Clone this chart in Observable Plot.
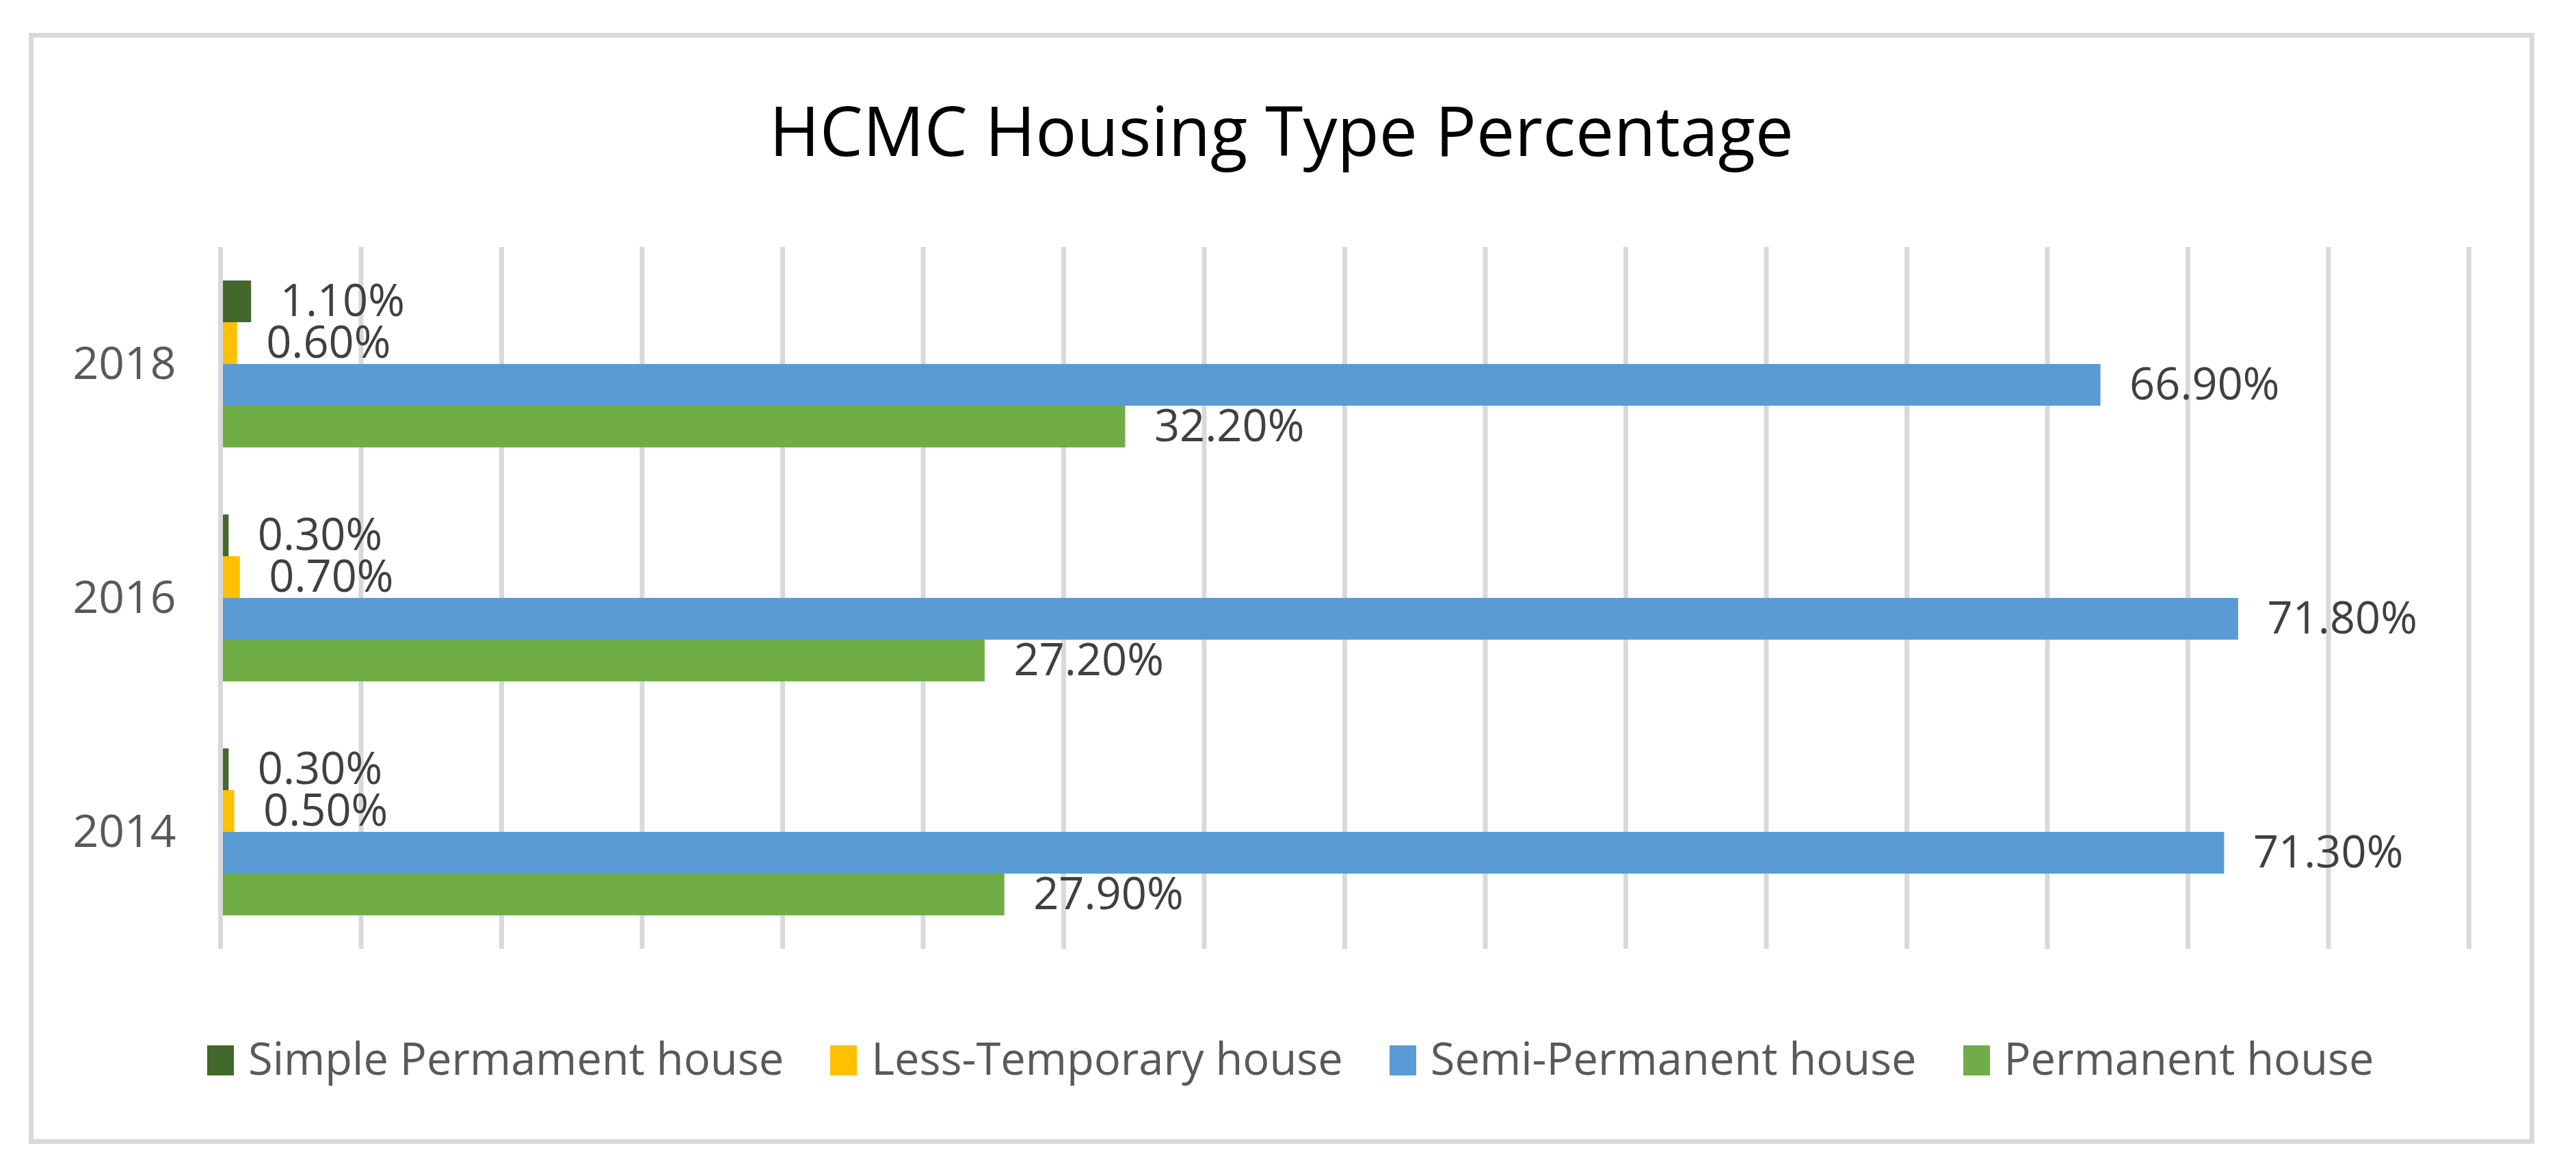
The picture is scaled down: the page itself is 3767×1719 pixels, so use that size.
<!DOCTYPE html>
<html>
<head>
<meta charset="utf-8">
<script src="https://cdn.jsdelivr.net/npm/d3@7"></script>
<script src="https://cdn.jsdelivr.net/npm/@observablehq/plot@0.6"></script>
<style>
  html, body { margin: 0; padding: 0; background: #fff; }
  body { width: 3767px; height: 1719px; position: relative; overflow: hidden; font-family: "Open Sans", sans-serif; }
  #frame { position: absolute; left: 42px; top: 48px; width: 3664px; height: 1624px; box-sizing: border-box; border: 7px solid #D9D9D9; }
  #title { position: absolute; left: 42px; width: 3664px; top: 121px; text-align: center; font-size: 100px; line-height: 1.362; color: #000; white-space: nowrap; }
  #chart { position: absolute; left: 0; top: 360px; }
  #legend { position: absolute; left: 303px; top: 1502px; display: flex; align-items: flex-start; font-size: 65px; line-height: 89px; color: #595959; white-space: nowrap; }
  .item { display: flex; align-items: flex-start; margin-right: 68px; }
  .sw { width: 39px; height: 44px; margin-top: 26px; margin-right: 21px; }
</style>
</head>
<body>
<div id="frame"></div>
<div id="title">HCMC Housing Type Percentage</div>
<div id="chart"></div>
<div id="legend"></div>
<script>
// Data
const years = ["2018", "2016", "2014"];
const series = ["Simple Permament house", "Less-Temporary house", "Semi-Permanent house", "Permanent house"];
const colors = ["#43682B", "#FFC000", "#5B9BD5", "#70AD47"];
const simplePermament = [1.1, 0.3, 0.3];
const lessTemporary = [0.6, 0.7, 0.5];
const semiPermanent = [66.9, 71.8, 71.3];
const permanent = [32.2, 27.2, 27.9];
const gridTicks = [0, 5, 10, 15, 20, 25, 30, 35, 40, 45, 50, 55, 60, 65, 70, 75, 80];

const seriesValues = [simplePermament, lessTemporary, semiPermanent, permanent];
const table = [];
years.forEach((y, i) => {
  series.forEach((s, j) => {
    table.push({year: y, series: s, value: seriesValues[j][i]});
  });
});

const fmt = v => d3.format(".2f")(v) + "%";

const chart = Plot.plot({
  width: 3767,
  height: 1027,
  marginLeft: 322,
  marginRight: 157,
  marginTop: 0,
  marginBottom: 0,
  style: {fontFamily: "Open Sans, sans-serif", background: "transparent"},
  x: {domain: [0, 80], axis: null},
  y: {domain: series, axis: null, paddingInner: 0, paddingOuter: 0.76},
  fy: {domain: years, padding: 0, axis: null, label: null},
  color: {domain: series, range: colors},
  marks: [
    Plot.gridX(gridTicks, {stroke: "#D9D9D9", strokeOpacity: 1, strokeWidth: 7}),
    Plot.barX(table, {x: "value", y: "series", fy: "year", fill: "series", insetLeft: 4}),
    Plot.text(table, {x: "value", y: "series", fy: "year", text: d => fmt(d.value), dx: 42, textAnchor: "start", fontSize: 65, fill: "#404040"}),
    Plot.axisFy({anchor: "left", tickSize: 0, tickPadding: 65, fontSize: 66, color: "#595959", label: null})
  ]
});
document.getElementById("chart").appendChild(chart);

const legend = document.getElementById("legend");
series.forEach((s, j) => {
  const item = document.createElement("div");
  item.className = "item";
  const sw = document.createElement("span");
  sw.className = "sw";
  sw.style.background = colors[j];
  const t = document.createElement("span");
  t.textContent = s;
  item.appendChild(sw);
  item.appendChild(t);
  legend.appendChild(item);
});
</script>
</body>
</html>
